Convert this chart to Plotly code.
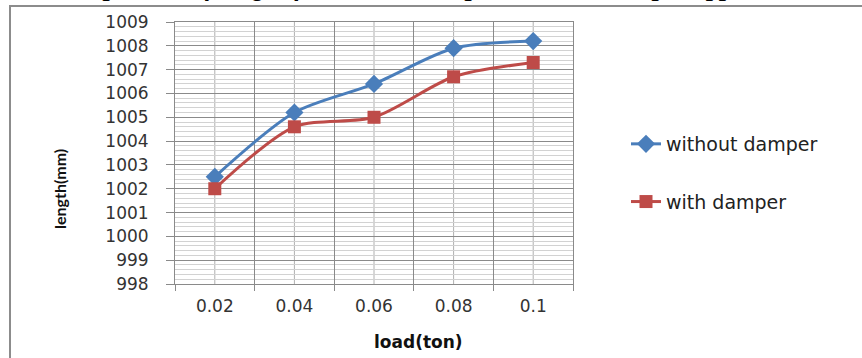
import plotly.graph_objects as go

# ---- data ----
loads = ["0.02", "0.04", "0.06", "0.08", "0.1"]
without_damper = [1002.5, 1005.2, 1006.4, 1007.9, 1008.2]
with_damper = [1002.0, 1004.6, 1005.0, 1006.7, 1007.3]
y_ticks = list(range(998, 1010))

title_text = "Comparison of length for without damper and with damper applies load"

W, H = 862, 358
L, R, T, B = 175, 573, 22, 284


def px_x(p):
    return (p - L) / (R - L)


def px_y(p):
    return (B - p) / (B - T)


fig = go.Figure()

fig.add_trace(go.Scatter(
    x=loads, y=without_damper, name="without damper", mode="lines+markers",
    line=dict(color="#4A7EBB", width=3, shape="spline", smoothing=0.8),
    marker=dict(symbol="diamond", size=14, color="#4A7EBB"),
    legendgroup="a",
))
fig.add_trace(go.Scatter(
    x=loads, y=with_damper, name="with damper", mode="lines+markers",
    line=dict(color="#BE4B48", width=3, shape="spline", smoothing=0.8),
    marker=dict(symbol="square", size=13, color="#BE4B48"),
    legendgroup="b",
))

# minor vertical gridlines at category centres (category index positions)
shapes = []
for i, _c in enumerate(loads):
    shapes.append(dict(type="line", xref="x", yref="paper", x0=i, x1=i, y0=0, y1=1,
                       line=dict(color="#B0B0B0", width=1), layer="below"))
# outer chart frame (extends past the picture)
shapes.append(dict(type="rect", xref="paper", yref="paper",
                   x0=px_x(10), x1=px_x(W + 20), y0=px_y(6), y1=px_y(H + 20),
                   line=dict(color="#8C8C8C", width=2), fillcolor="rgba(0,0,0,0)", layer="above"))

fig.update_layout(
    width=W, height=H,
    margin=dict(l=L, r=W - R, t=T, b=H - B),
    paper_bgcolor="white", plot_bgcolor="white",
    shapes=shapes,
    showlegend=True,
    legend=dict(
        x=px_x(626), y=px_y(173), xanchor="left", yanchor="middle",
        font=dict(family="DejaVu Sans", size=19, color="#222222"),
        traceorder="grouped", tracegroupgap=30, bgcolor="rgba(0,0,0,0)",
    ),
    xaxis=dict(
        type="category", categoryarray=loads, tickson="boundaries",
        range=[-0.5, len(loads) - 0.5],
        showgrid=True, gridcolor="#8A8A8A", gridwidth=1,
        showline=True, linecolor="#8A8A8A", linewidth=1, mirror=True,
        ticks="outside", ticklen=6, tickcolor="#8A8A8A",
        tickfont=dict(family="DejaVu Sans", size=17, color="#333333"),
        ticklabelstandoff=7,
    ),
    yaxis=dict(
        range=[998, 1009], tickvals=y_ticks,
        showgrid=True, gridcolor="#8A8A8A", gridwidth=1,
        minor=dict(dtick=0.2, showgrid=True, gridcolor="#D2D2D2", gridwidth=1),
        showline=True, linecolor="#8A8A8A", linewidth=1, mirror=True,
        ticks="outside", ticklen=8, tickcolor="#8A8A8A",
        tickfont=dict(family="DejaVu Sans", size=17, color="#333333"),
        ticklabelstandoff=14, zeroline=False,
    ),
    annotations=[
        dict(text="<b>length(mm)</b>", xref="paper", yref="paper",
             x=px_x(59), y=px_y(189), xanchor="center", yanchor="middle",
             textangle=-90, showarrow=False,
             font=dict(family="Lato", size=16, color="#111111")),
        dict(text="<b>load(ton)</b>", xref="paper", yref="paper",
             x=px_x(418), y=px_y(342), xanchor="center", yanchor="middle",
             showarrow=False,
             font=dict(family="DejaVu Sans", size=17, color="#111111")),
        dict(text="<b><i>" + title_text + "</i></b>", xref="paper", yref="paper",
             x=px_x(52), y=px_y(4), xanchor="left", yanchor="bottom",
             showarrow=False,
             font=dict(family="Liberation Serif", size=26, color="#000000")),
    ],
)

fig.write_html("out.html")
